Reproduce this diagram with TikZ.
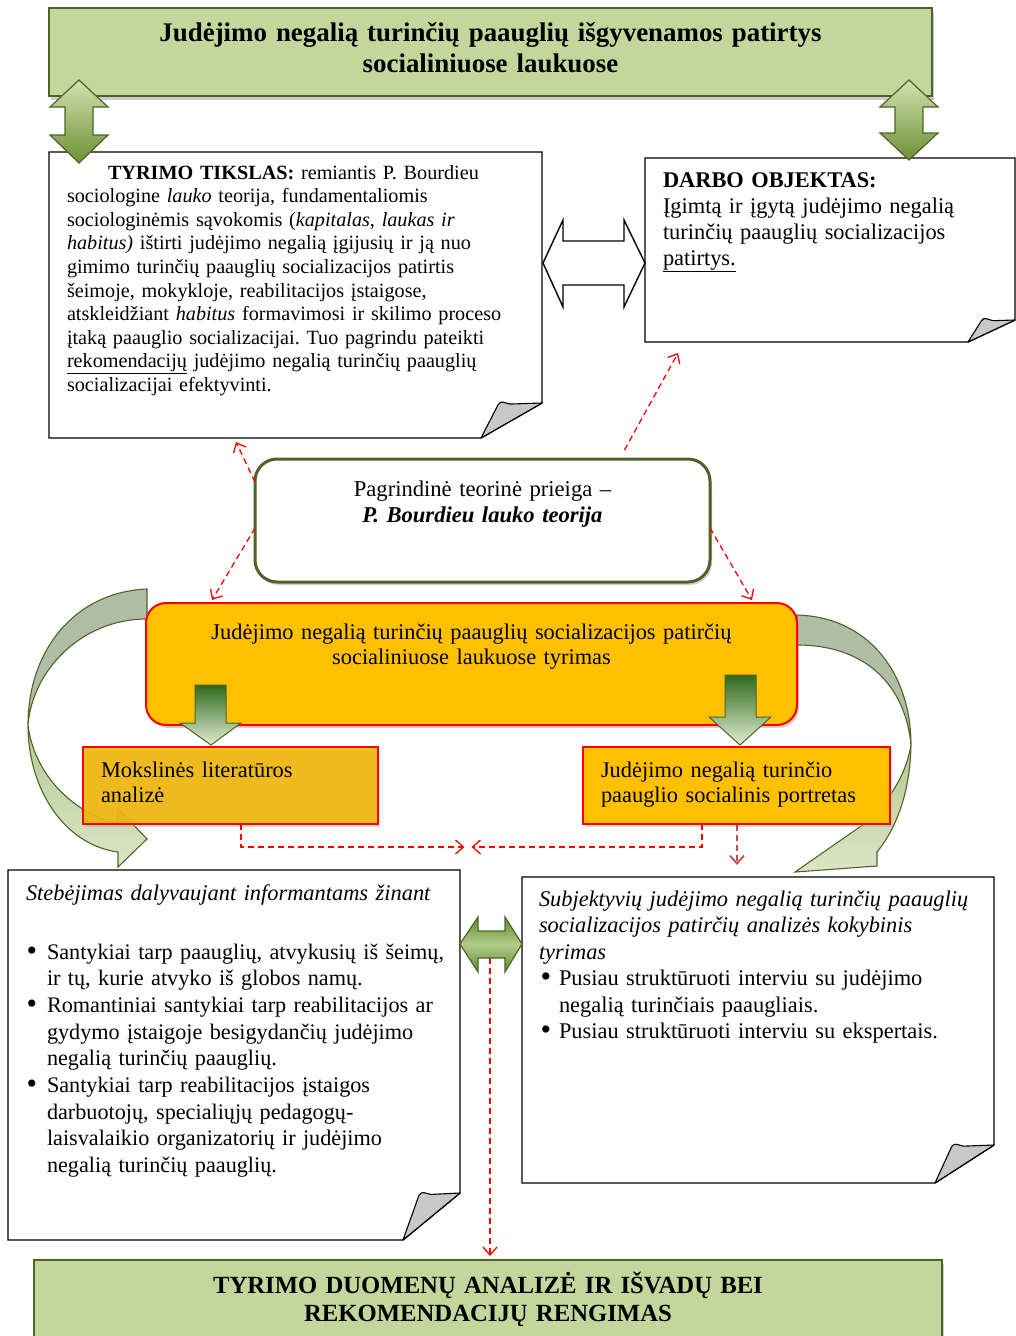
\documentclass[tikz,border=0pt]{standalone}
\usepackage{fontspec}
\setmainfont{Liberation Serif}
\usetikzlibrary{arrows.meta,calc,shadows}
\frenchspacing
\definecolor{bannergreen}{HTML}{C3D69B}
\definecolor{olivedark}{HTML}{4F6228}
\definecolor{gold}{HTML}{FFC000}
\definecolor{litgold}{HTML}{F2B705}
\definecolor{boxred}{HTML}{FF0000}
\definecolor{foldgray}{HTML}{C8C8C8}
\definecolor{backgreen}{HTML}{AFBEA4}
\definecolor{frontlight}{HTML}{DAE6C6}
\definecolor{frontmid}{HTML}{B5CA93}
\definecolor{deepgreen}{HTML}{2E6A1C}
\definecolor{palegreen}{HTML}{E2ECD3}
\definecolor{midgreen}{HTML}{6E8F35}
\definecolor{lightgreen}{HTML}{D2E2B0}
\definecolor{dblmid}{HTML}{B3CC8A}
\definecolor{dbledge}{HTML}{5F8A2E}
\definecolor{arrowred}{HTML}{FF0000}
\definecolor{darkred}{HTML}{C0504D}
\newcommand\bigbul{\raisebox{-0.06em}{\scalebox{1.35}{\textbullet}}}
\newcommand\bulitem{\makebox[21pt][l]{\hspace{0.5pt}\bigbul}}
\newcommand\bulind{\hspace*{21pt}}
\newcommand\foldedbox[3]{%
  \filldraw[paperline] (#1.north west) -- (#1.north east) -- ($(#1.south east)+(0,-#3)$) -- ($(#1.south east)+(-#2,0)$) -- (#1.south west) -- cycle;
  \filldraw[foldpart] ($(#1.south east)+(-#2,0)$) -- ($(#1.south east)+(-0.72*#2,-0.95*#3)$) .. controls +(3,-5) and +(-6,-1) .. ($(#1.south east)+(-0.72*#2+12,-0.97*#3)$) -- ($(#1.south east)+(0,-#3)$) -- cycle;
}
\begin{document}
\begin{tikzpicture}[x=1pt,y=-1pt,
  every node/.style={inner sep=0pt, outer sep=0pt},
  frame/.style 2 args={anchor=north west, minimum width=#1pt, minimum height=#2pt},
  banner/.style={draw=olivedark, line width=1.8pt, fill=bannergreen,
    drop shadow={shadow xshift=2pt, shadow yshift=-4pt, fill=black!40}},
  paperline/.style={draw=black, line width=1.4pt, fill=white, line join=miter},
  foldpart/.style={draw=black, line width=1.1pt, fill=foldgray, line join=round},
  greenarrow/.style={draw=olivedark, line width=1.2pt, line join=miter},
  redarrow/.style={draw=arrowred, line width=1.3pt, dash pattern=on 6pt off 4pt,
    -{Straight Barb[length=8pt,width=14pt]}},
  txt/.style={anchor=base west, align=left, text width=#1pt},
  ctxt/.style={anchor=base, align=center, text width=#1pt},
  f11/.style={font=\fontsize{20.2}{23.6}\selectfont},
  f12/.style={font=\fontsize{22.4}{26.5}\selectfont},
]
\useasboundingbox (0,0) rectangle (1016,1336);
\clip (0,0) rectangle (1016,1336);

% ---------- top banner ----------
\node[frame={883}{88}, banner] (banner) at (49,8) {};

% ---------- goal and object boxes ----------
\node[frame={493}{286}] (goal) at (49,152) {};
\foldedbox{goal}{61}{35}
\node[frame={370}{184}] (object) at (645,158) {};
\foldedbox{object}{47}{22}

% vertical green double arrows
\draw[greenarrow, top color=lightgreen, bottom color=midgreen]
  (79,80) -- (108,107) -- (93,107) -- (93,135) -- (108,135) -- (79,163)
  -- (50,135) -- (65,135) -- (65,107) -- (50,107) -- cycle;
\draw[greenarrow, top color=lightgreen, bottom color=midgreen]
  (909,80) -- (938,107) -- (923,107) -- (923,133) -- (938,133) -- (909,160)
  -- (880,133) -- (895,133) -- (895,107) -- (880,107) -- cycle;

% white double arrow between goal and object
\draw[line width=1.4pt, fill=white, line join=miter]
  ($(goal.east)+(1,-32)$) -- (563,220) -- (563,241) -- (624,241) -- (624,220)
  -- ($(object.west)+(0,13)$) -- (624,307) -- (624,285) -- (563,285) -- (563,307) -- cycle;

% ---------- theory box ----------
\node[frame={455}{123}, draw=olivedark, line width=3pt, fill=white, rounded corners=22pt,
  drop shadow={shadow xshift=2pt, shadow yshift=-3pt, fill=black!35}] (theory) at (255,459) {};

% ---------- curved arrows ----------
\filldraw[draw=olivedark, line width=1.1pt, fill=backgreen]
  (147,589) .. controls (75,592) and (28,650) .. (28,725)
  .. controls (32,672) and (80,619) .. (147,619) -- cycle;
\draw[draw=olivedark, line width=1.1pt, top color=frontmid, bottom color=frontlight]
  (28,725) .. controls (28,790) and (65,845) .. (118,852) -- (118,867) -- (147,839)
  -- (118,809) -- (118,823) .. controls (75,815) and (34,775) .. (28,725) -- cycle;
\filldraw[draw=olivedark, line width=1.1pt, fill=backgreen]
  (797,615) .. controls (870,617) and (911,675) .. (911,745)
  .. controls (906,690) and (870,645) .. (797,645) -- cycle;
\draw[draw=olivedark, line width=1.1pt, top color=frontmid, bottom color=frontlight]
  (911,745) .. controls (910,795) and (895,830) .. (877,852) -- (877,866) -- (795,872)
  -- (864,824) .. controls (885,805) and (905,780) .. (911,745) -- cycle;

% ---------- orange research box ----------
\node[frame={651}{122}, draw=boxred, line width=2pt, fill=gold, rounded corners=20pt,
  drop shadow={shadow xshift=2pt, shadow yshift=-3pt, fill=black!35}] (tyrimas) at (146,603) {};

% down arrows
\draw[greenarrow, line width=1pt, top color=deepgreen, bottom color=palegreen]
  (195,685) -- (226,685) -- (226,723) -- (241,723) -- (211,745) -- (180,723) -- (195,723) -- cycle;
\draw[greenarrow, line width=1pt, top color=deepgreen, bottom color=palegreen]
  (725,675) -- (756,675) -- (756,717) -- (771,717) -- (740,745) -- (709,717) -- (725,717) -- cycle;

% ---------- method boxes ----------
\node[frame={295}{77}, draw=boxred, line width=1.5pt, fill=litgold, fill opacity=0.88,
  drop shadow={shadow xshift=2pt, shadow yshift=-3pt, fill=black!30}] (lit) at (83,747) {};
\node[frame={307}{77}, draw=boxred, line width=1.5pt, fill=gold,
  drop shadow={shadow xshift=2pt, shadow yshift=-3pt, fill=black!30}] (portrait) at (583,747) {};

% ---------- dashed red arrows ----------
\draw[redarrow] ($(theory.north west)+(0,23)$) -- ($(goal.south west)+(187,4)$);
\draw[redarrow] ($(theory.south west)+(0,-54)$) -- ($(tyrimas.north west)+(66,-3)$);
\draw[redarrow] ($(theory.south east)+(0,-54)$) -- ($(tyrimas.north east)+(-45,-3)$);
\draw[redarrow] ($(theory.north)+(142,-9)$) -- ($(object.south west)+(33,11)$);
\coordinate (meet) at (467.5,847);
\draw[redarrow] ($(lit.south west)+(158,0)$) |- ($(meet)+(-3,0)$);
\draw[redarrow] ($(portrait.south west)+(119,0)$) |- ($(meet)+(4,0)$);
\draw[redarrow, draw=darkred, line width=1.8pt] ($(portrait.south west)+(154,1)$) -- ++(0,40);

% ---------- bottom boxes ----------
\node[frame={452}{370}] (obs) at (8,870) {};
\foldedbox{obs}{57}{47}
\node[frame={472}{306}] (interview) at (522,877) {};
\foldedbox{interview}{59}{38}

% ---------- final banner ----------
\node[frame={908}{110}, banner] (final) at (34,1260) {};

% center double arrow
\coordinate (dblc) at (491,944);
\draw[redarrow] ($(dblc)+(-1,14)$) -- ($(final.north)+(2,-4)$);
\draw[greenarrow, top color=dbledge, bottom color=dbledge, middle color=dblmid]
  (460,944) -- (478,917) -- (478,931) -- (505,931) -- (505,917) -- (522,944)
  -- (505,972) -- (505,958) -- (478,958) -- (478,972) -- cycle;

% ---------- texts ----------
\node[ctxt=880, font=\bfseries\fontsize{26.9}{31.5}\selectfont] (bannertext) at (490.5,41)
  {Judėjimo negalią turinčių paauglių išgyvenamos patirtys\\ socialiniuose laukuose};

\node[txt=475, f11] (goaltext) at (67,179)
  {\hspace*{41pt}\textbf{TYRIMO TIKSLAS:} remiantis P. Bourdieu\\
   sociologine \textit{lauko} teorija, fundamentaliomis\\
   sociologinėmis sąvokomis (\textit{kapitalas}, \textit{laukas ir}\\
   \textit{habitus)} ištirti judėjimo negalią įgijusių ir ją nuo\\
   gimimo turinčių paauglių socializacijos patirtis\\
   šeimoje, mokykloje, reabilitacijos įstaigose,\\
   atskleidžiant \textit{habitus} formavimosi ir skilimo proceso\\
   įtaką paauglio socializacijai. Tuo pagrindu pateikti\\
   \underline{rekomendacijų} judėjimo negalią turinčių paauglių\\
   socializacijai efektyvinti.};

\node[txt=345, font=\fontsize{22.4}{26}\selectfont] (objtext) at (663,187)
  {\textbf{DARBO OBJEKTAS:}\\
   Įgimtą ir įgytą judėjimo negalią\\
   turinčių paauglių socializacijos\\
   \underline{patirtys.}};

\node[ctxt=440, font=\fontsize{22.6}{26}\selectfont] (theorytext) at (482.5,496)
  {Pagrindinė teorinė prieiga –\\ \textbf{\textit{P. Bourdieu lauko teorija}}};

\node[ctxt=630, font=\fontsize{22.4}{25.5}\selectfont] (tyrimastext) at (471.5,639)
  {Judėjimo negalią turinčių paauglių socializacijos patirčių\\ socialiniuose laukuose tyrimas};

\node[txt=270, font=\fontsize{22.4}{25.5}\selectfont] (littext) at (101,777)
  {Mokslinės literatūros\\ analizė};
\node[txt=285, font=\fontsize{22.4}{25.5}\selectfont] (porttext) at (601,777)
  {Judėjimo negalią turinčio\\ paauglio socialinis portretas};

\node[txt=430, f12] (obstitle) at (26,900)
  {\textit{Stebėjimas dalyvaujant informantams žinant}};
\node[txt=430, font=\fontsize{22.2}{26.7}\selectfont] (obslist) at (26,959)
  {\bulitem Santykiai tarp paauglių, atvykusių iš šeimų,\\
   \bulind ir tų, kurie atvyko iš globos namų.\\
   \bulitem Romantiniai santykiai tarp reabilitacijos ar\\
   \bulind gydymo įstaigoje besigydančių judėjimo\\
   \bulind negalią turinčių paauglių.\\
   \bulitem Santykiai tarp reabilitacijos įstaigos\\
   \bulind darbuotojų, specialiųjų pedagogų-\\
   \bulind laisvalaikio organizatorių ir judėjimo\\
   \bulind negalią turinčių paauglių.};

\node[txt=450, f12] (intertext) at (539,906)
  {\textit{Subjektyvių judėjimo negalią turinčių paauglių}\\
   \textit{socializacijos patirčių analizės kokybinis}\\
   \textit{tyrimas}\\
   \makebox[20pt][l]{\hspace{1.5pt}\bigbul}Pusiau struktūruoti interviu su judėjimo\\
   \hspace*{20pt}negalią turinčiais paaugliais.\\
   \makebox[20pt][l]{\hspace{1.5pt}\bigbul}Pusiau struktūruoti interviu su ekspertais.};

\node[ctxt=880, font=\bfseries\fontsize{24.7}{28}\selectfont] (finaltext) at (488,1293)
  {TYRIMO DUOMENŲ ANALIZĖ IR IŠVADŲ BEI\\ REKOMENDACIJŲ RENGIMAS};
\end{tikzpicture}
\end{document}
